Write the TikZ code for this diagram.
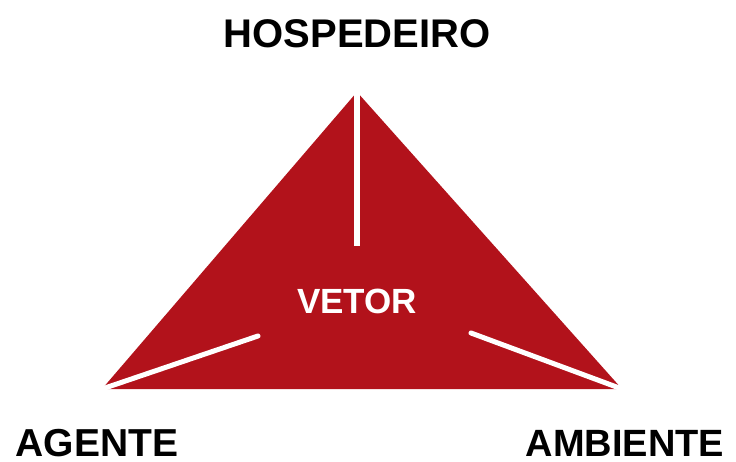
\documentclass[tikz,border=0pt]{standalone}
\usepackage{fontspec}
\setmainfont{Liberation Sans}
\definecolor{vred}{RGB}{178,18,27}
\begin{document}
\begin{tikzpicture}[x=1pt,y=-1pt,
  lbl/.style={font=\bfseries\fontsize{39}{41}\selectfont, text=black, inner sep=0pt, text depth=0pt, anchor=base},
  wline/.style={draw=white, line width=6pt, line cap=round}]
\useasboundingbox (0,0) rectangle (736,462);
\coordinate (top) at (357,92);
\coordinate (bl) at (102,389);
\coordinate (br) at (622,389);
\fill[vred] (top) -- (bl) -- (br) -- cycle;
\coordinate (c1) at (357,246);
\coordinate (c2) at (258,336);
\coordinate (c3) at (471,333);
\draw[wline, line cap=butt] (357,90) -- (c1);
\draw[wline, line width=5pt] (bl) -- (c2);
\draw[wline, line width=5pt] (br) -- (c3);
\node[font=\bfseries\fontsize{35}{37}\selectfont, text=white, inner sep=0pt, anchor=base] (vetor) at (357,313) {VETOR};
\node[lbl, font=\bfseries\fontsize{40}{42}\selectfont] (hosp) at (357,48) {HOSPEDEIRO};
\node[lbl] (agente) at (97,456) {AGENTE};
\node[lbl, font=\bfseries\fontsize{38}{40}\selectfont] (amb) at (625,456) {AMBIENTE};
\end{tikzpicture}
\end{document}
